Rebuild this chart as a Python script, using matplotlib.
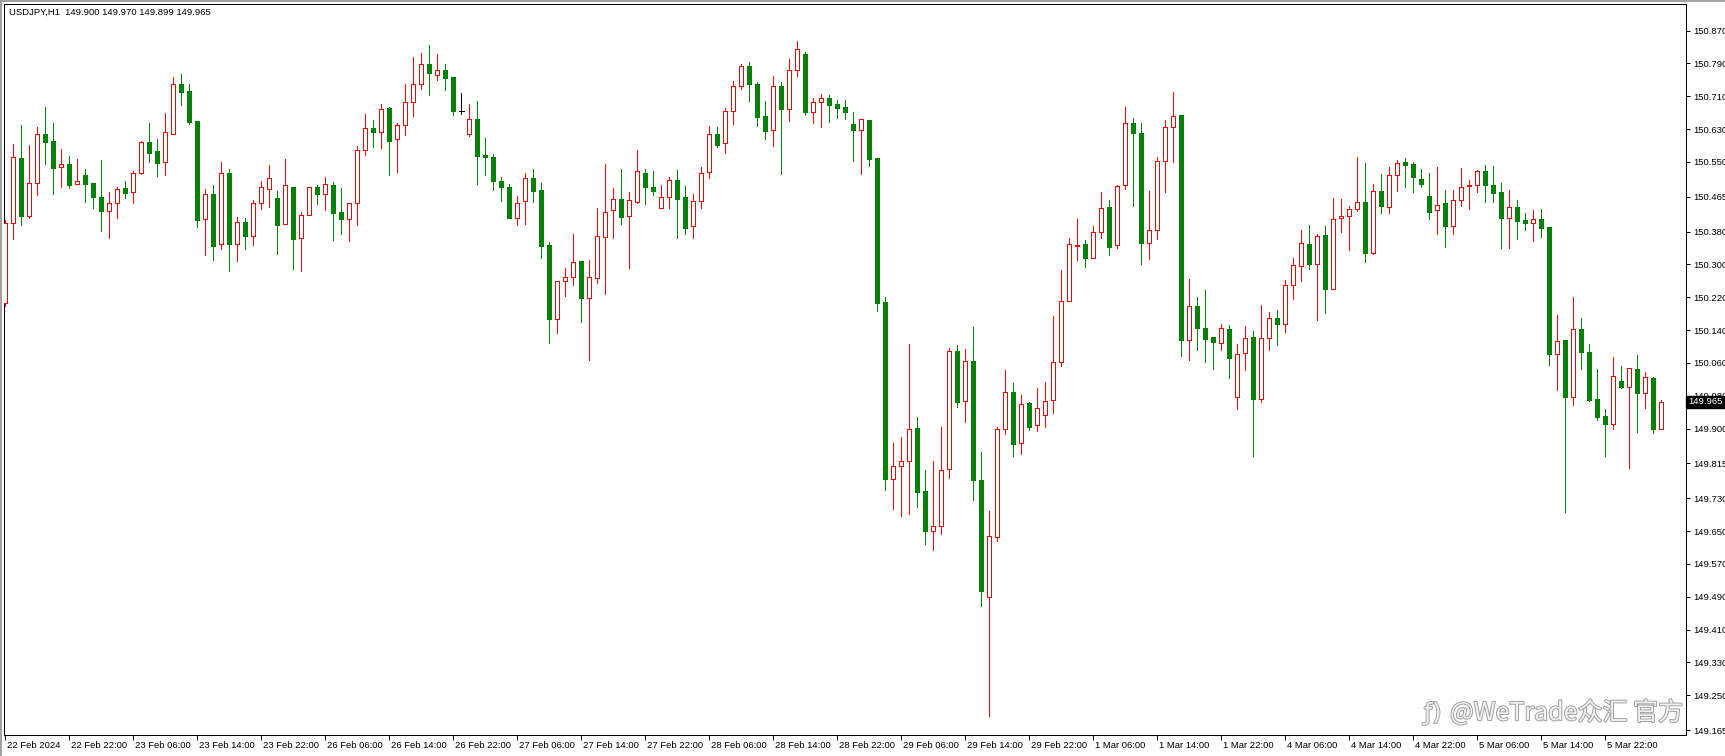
import matplotlib
matplotlib.use('Agg')
import matplotlib.pyplot as plt
import matplotlib.patheffects as pe
from matplotlib.transforms import blended_transform_factory, ScaledTranslation
import numpy as np

symbol_text = "USDJPY,H1  149.900 149.970 149.899 149.965"
last_price = 149.965

opens = [150.207,150.400,150.559,150.419,150.498,150.619,150.601,150.537,150.545,150.495,
         150.518,150.498,150.464,150.431,150.449,150.486,150.476,150.522,150.598,150.576,
         150.549,150.619,150.740,150.723,150.649,150.410,150.472,150.349,150.522,150.351,
         150.403,150.369,150.449,150.485,150.461,150.398,150.490,150.364,150.420,150.488,
         150.471,150.493,150.427,150.410,150.449,150.578,150.632,150.624,150.681,150.605,
         150.641,150.695,150.741,150.788,150.763,150.775,150.756,150.673,150.619,150.654,
         150.566,150.561,150.503,150.490,150.414,150.454,150.512,150.481,150.347,150.166,
         150.259,150.269,150.308,150.218,150.268,150.366,150.432,150.459,150.417,150.453,
         150.524,150.488,150.437,150.464,150.507,150.464,150.393,150.454,150.526,150.617,
         150.595,150.673,150.734,150.783,150.740,150.662,150.627,150.735,150.680,150.775,
         150.812,150.672,150.696,150.705,150.691,150.683,150.642,150.627,150.652,150.559,
         150.209,149.778,149.808,149.820,149.901,149.748,149.651,149.662,149.801,150.090,
         149.966,150.064,149.775,149.490,149.635,149.899,149.989,149.864,149.962,149.908,
         149.932,149.969,150.063,150.210,150.345,150.349,150.317,150.379,150.439,150.347,
         150.494,150.644,150.620,150.353,150.383,150.553,150.636,150.664,150.115,150.199,
         150.145,150.123,150.108,150.143,149.976,150.084,150.123,149.973,150.120,150.169,
         150.156,150.249,150.296,150.351,150.302,150.371,150.241,150.413,150.417,150.436,
         150.453,150.328,150.478,150.441,150.519,150.549,150.545,150.508,150.468,150.434,
         150.450,150.393,150.458,150.491,150.494,150.527,150.493,150.477,150.414,150.441,
         150.408,150.402,150.410,150.392,150.081,150.116,149.976,150.142,150.087,149.972,
         149.931,149.912,150.015,150.001,150.044,149.986,150.023,149.900]
highs = [150.408,150.593,150.639,150.591,150.635,150.684,150.645,150.581,150.564,150.557,
         150.533,150.498,150.554,150.477,150.488,150.503,150.527,150.601,150.645,150.606,
         150.669,150.757,150.764,150.740,150.649,150.485,150.494,150.549,150.533,150.416,
         150.413,150.456,150.503,150.542,150.478,150.556,150.490,150.427,150.488,150.494,
         150.513,150.500,150.486,150.449,150.588,150.666,150.652,150.691,150.684,150.646,
         150.740,150.805,150.815,150.835,150.813,150.788,150.756,150.718,150.691,150.698,
         150.608,150.569,150.513,150.496,150.467,150.523,150.533,150.498,150.355,150.259,
         150.291,150.374,150.308,150.311,150.438,150.545,150.486,150.533,150.477,150.579,
         150.533,150.528,150.494,150.513,150.530,150.491,150.472,150.537,150.637,150.635,
         150.681,150.747,150.788,150.793,150.744,150.698,150.760,150.745,150.800,150.845,
         150.818,150.705,150.715,150.712,150.700,150.700,150.672,150.654,150.652,150.559,
         150.221,149.865,149.880,150.105,149.928,149.799,149.821,149.903,150.097,150.103,
         150.094,150.147,149.844,149.698,149.903,150.043,150.011,149.982,149.965,149.999,
         150.014,150.174,150.287,150.364,150.410,150.359,150.393,150.476,150.457,150.494,
         150.684,150.657,150.644,150.479,150.563,150.652,150.720,150.664,150.264,150.221,
         150.238,150.123,150.154,150.152,150.106,150.150,150.138,150.201,150.184,150.189,
         150.263,150.316,150.384,150.396,150.375,150.395,150.462,150.459,150.442,150.561,
         150.547,150.496,150.520,150.537,150.554,150.559,150.551,150.533,150.522,150.537,
         150.482,150.482,150.535,150.506,150.531,150.542,150.540,150.499,150.482,150.457,
         150.425,150.434,150.435,150.392,150.177,150.116,150.221,150.169,150.105,150.045,
         149.948,150.074,150.052,150.047,150.080,150.037,150.026,149.970]
lows = [150.200,150.363,150.397,150.414,150.470,150.545,150.472,150.490,150.487,150.495,
        150.453,150.438,150.382,150.365,150.414,150.463,150.451,150.520,150.550,150.516,
        150.519,150.619,150.689,150.643,150.392,150.324,150.312,150.338,150.285,150.309,
        150.338,150.348,150.436,150.441,150.326,150.398,150.290,150.285,150.420,150.448,
        150.433,150.360,150.375,150.358,150.397,150.567,150.587,150.585,150.519,150.526,
        150.616,150.662,150.728,150.714,150.750,150.726,150.665,150.667,150.614,150.497,
        150.519,150.482,150.455,150.414,150.397,150.399,150.453,150.317,150.108,150.134,
        150.222,150.251,150.161,150.066,150.256,150.229,150.365,150.399,150.292,150.451,
        150.448,150.470,150.437,150.438,150.365,150.375,150.365,150.438,150.511,150.587,
        150.572,150.643,150.728,150.699,150.638,150.605,150.588,150.521,150.650,150.760,
        150.665,150.646,150.636,150.648,150.657,150.655,150.553,150.521,150.541,150.186,
        149.751,149.704,149.686,149.691,149.708,149.618,149.603,149.642,149.780,149.953,
        149.917,149.725,149.468,149.199,149.627,149.887,149.832,149.837,149.897,149.895,
        149.903,149.937,150.053,150.210,150.311,150.295,150.317,150.365,150.322,150.341,
        150.483,150.443,150.300,150.314,150.362,150.477,150.549,150.077,150.068,150.092,
        150.062,150.045,150.092,150.024,149.948,150.043,149.832,149.965,150.092,150.104,
        150.136,150.217,150.260,150.290,150.165,150.182,150.241,150.380,150.336,150.430,
        150.307,150.325,150.426,150.426,150.480,150.488,150.477,150.490,150.412,150.375,
        150.343,150.375,150.442,150.436,150.476,150.453,150.453,150.341,150.339,150.363,
        150.385,150.358,150.368,150.056,149.993,149.696,149.958,150.046,149.968,149.920,
        149.832,149.900,149.999,149.805,149.891,149.949,149.888,149.899]
closes = [150.400,150.561,150.419,150.498,150.619,150.599,150.536,150.544,150.494,150.503,
          150.497,150.465,150.431,150.451,150.485,150.475,150.524,150.598,150.572,150.548,
          150.622,150.739,150.721,150.648,150.409,150.471,150.346,150.522,150.351,150.403,
          150.370,150.451,150.488,150.512,150.397,150.493,150.363,150.420,150.488,150.471,
          150.495,150.426,150.412,150.449,150.578,150.632,150.624,150.680,150.602,150.641,
          150.695,150.741,150.788,150.766,150.773,150.755,150.675,150.673,150.654,150.565,
          150.563,150.504,150.490,150.414,150.451,150.512,150.480,150.346,150.166,150.259,
          150.269,150.305,150.218,150.269,150.369,150.429,150.459,150.416,150.456,150.527,
          150.490,150.480,150.464,150.507,150.460,150.390,150.454,150.524,150.617,150.592,
          150.674,150.734,150.783,150.740,150.660,150.626,150.735,150.680,150.775,150.825,
          150.672,150.696,150.705,150.689,150.681,150.672,150.629,150.654,150.558,150.207,
          149.778,149.808,149.820,149.898,149.746,149.651,149.662,149.799,150.089,149.965,
          150.064,149.775,149.503,149.637,149.899,149.989,149.863,149.961,149.905,149.949,
          149.968,150.063,150.210,150.349,150.347,150.317,150.379,150.438,150.343,150.491,
          150.644,150.620,150.353,150.383,150.553,150.636,150.663,150.115,150.199,150.144,
          150.119,150.112,150.145,150.073,150.081,150.122,149.973,150.122,150.169,150.156,
          150.249,150.298,150.353,150.302,150.369,150.241,150.412,150.418,150.436,150.453,
          150.329,150.478,150.443,150.519,150.548,150.543,150.514,150.497,150.429,150.446,
          150.393,150.458,150.488,150.493,150.527,150.493,150.475,150.414,150.441,150.407,
          150.402,150.410,150.390,150.081,150.113,149.976,150.142,150.086,149.970,149.928,
          149.912,150.027,150.002,150.047,149.986,150.025,149.898,149.965]

x_tick_labels = ["22 Feb 2024", "22 Feb 22:00", "23 Feb 06:00", "23 Feb 14:00", "23 Feb 22:00",
                 "26 Feb 06:00", "26 Feb 14:00", "26 Feb 22:00", "27 Feb 06:00", "27 Feb 14:00",
                 "27 Feb 22:00", "28 Feb 06:00", "28 Feb 14:00", "28 Feb 22:00", "29 Feb 06:00",
                 "29 Feb 14:00", "29 Feb 22:00", "1 Mar 06:00", "1 Mar 14:00", "1 Mar 22:00",
                 "4 Mar 06:00", "4 Mar 14:00", "4 Mar 22:00", "5 Mar 06:00", "5 Mar 14:00",
                 "5 Mar 22:00"]
bars_per_label = 8
y_tick_values = [150.870, 150.790, 150.710, 150.630, 150.550, 150.465, 150.380, 150.300,
                 150.220, 150.140, 150.060, 149.980, 149.900, 149.815, 149.730, 149.650,
                 149.570, 149.490, 149.410, 149.330, 149.250, 149.165]
y_tick_labels = ["%.3f" % v for v in y_tick_values]

W, H = 1725, 756
fig = plt.figure(figsize=(W / 100, H / 100), dpi=100)
fig.patch.set_facecolor('white')
L, R, T, B = 4, 1686, 4, 735
ax = fig.add_axes([L / W, (H - B) / H, (R - L) / W, (B - T) / H])
ax.set_facecolor('white')

FONT = 'Liberation Sans'
FS = 6.8
GREEN = '#008000'
RED = '#FF0000'
LW = 0.72

o = np.array(opens); h = np.array(highs); l = np.array(lows); c = np.array(closes)
x = np.arange(len(o))
up = c > o
down = c < o
flat = c == o
wick_colors = np.where(up, RED, np.where(down, GREEN, '#000000'))

ax.vlines(x, l, h, colors=wick_colors, linewidth=LW, antialiased=False, zorder=2)
ax.bar(x[down], (o - c)[down], bottom=c[down], width=0.5, color=GREEN,
       edgecolor=GREEN, linewidth=LW, antialiased=False, zorder=3)
ax.bar(x[up], (c - o)[up], bottom=o[up], width=0.5, facecolor='white',
       edgecolor=RED, linewidth=LW, antialiased=False, zorder=3)
ax.hlines(o[flat], x[flat] - 0.3, x[flat] + 0.3, colors='#000000', linewidth=LW,
          antialiased=False, zorder=3)

ax.set_xlim((L - 5.3) / 8, (R - 5.3) / 8)
ax.set_ylim(149.153, 150.935)

for s in ax.spines.values():
    s.set_color('black')
    s.set_linewidth(LW)

ax.set_xticks(np.arange(len(x_tick_labels)) * bars_per_label)
ax.set_xticklabels(x_tick_labels, fontsize=FS, family=FONT)
ax.tick_params(axis='x', direction='out', length=3.5, width=LW, pad=1, colors='black')
offset = ScaledTranslation(1.5 / 100, 0, fig.dpi_scale_trans)
for lbl in ax.get_xticklabels():
    lbl.set_ha('left')
    lbl.set_transform(lbl.get_transform() + offset)

ax.yaxis.tick_right()
ax.set_yticks(y_tick_values)
ax.set_yticklabels(y_tick_labels, fontsize=FS, family=FONT)
ax.tick_params(axis='y', direction='out', length=3, width=LW, pad=2.5, colors='black')

# last price marker (covers most of the 149.980 label, as in the terminal)
trans = blended_transform_factory(ax.transAxes, ax.transData)
ax.text(1.0, last_price, "%.3f" % last_price,
        transform=trans + ScaledTranslation(2 / 100, 0, fig.dpi_scale_trans),
        ha='left', va='center', fontsize=FS, family=FONT, color='white', clip_on=False, zorder=10,
        bbox=dict(boxstyle='square,pad=0.2', facecolor='black', edgecolor='black'))

# header
fig.text(9 / W, 1 - 12 / H, symbol_text, fontsize=FS, family=FONT, ha='left', va='center', color='black')

# watermark
wm_fx = [pe.withStroke(linewidth=1.3, foreground='#9a9a9a')]
fig.text(1424 / W, 1 - 713 / H, "ƒ)", fontsize=17, family='DejaVu Sans', color='#f2f2f2',
         ha='left', va='center', path_effects=wm_fx, zorder=20)
fig.text(1450 / W, 1 - 713 / H, "@WeTrade众汇 官方", fontsize=18,
         family=['Noto Sans CJK SC', 'DejaVu Sans'], color='#f2f2f2', ha='left', va='center',
         path_effects=wm_fx, zorder=20)

# window frame
fig.add_artist(plt.Line2D([0, 1], [1 - 0.5 / H, 1 - 0.5 / H], color='#a0a0a0', linewidth=1.4, transform=fig.transFigure))
fig.add_artist(plt.Line2D([0.5 / W, 0.5 / W], [0, 1], color='#a0a0a0', linewidth=1.4, transform=fig.transFigure))

fig.savefig('out.png', dpi=100, facecolor='white')
